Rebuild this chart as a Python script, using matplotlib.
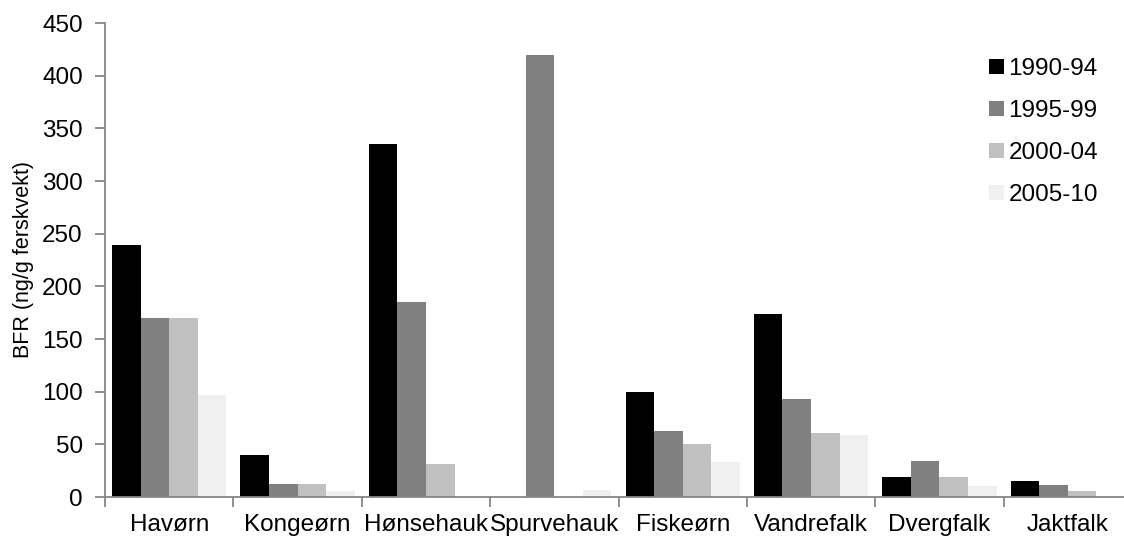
import matplotlib
matplotlib.use("Agg")
import matplotlib.pyplot as plt
import numpy as np

plt.rcParams['font.family'] = ['Liberation Sans', 'DejaVu Sans']

categories = ["Havørn", "Kongeørn", "Hønsehauk", "Spurvehauk", "Fiskeørn",
              "Vandrefalk", "Dvergfalk", "Jaktfalk"]
series_names = ["1990-94", "1995-99", "2000-04", "2005-10"]
v_1990_94 = [239, 40, 335, 0, 100, 174, 19, 15]
v_1995_99 = [170, 12, 185, 420, 63, 93, 34, 11]
v_2000_04 = [170, 12, 31, 0, 50, 61, 19, 6]
v_2005_10 = [97, 6, 0, 7, 33, 59, 10, 1]
colors = ["#000000", "#808080", "#c0c0c0", "#f0f0f0"]

W, H = 1124, 538
fig = plt.figure(figsize=(W/100, H/100), dpi=100)
ax = fig.add_axes([105/W, 1-497/H, 1027/W, (497-23)/H])

x = np.arange(len(categories))
group = 0.89
w = group / 4
for i, (vals, c, n) in enumerate(zip([v_1990_94, v_1995_99, v_2000_04, v_2005_10], colors, series_names)):
    ax.bar(x - group/2 + w*(i+0.5), vals, width=w, color=c, label=n, linewidth=0)

fs = 17.5
ax.set_xlim(-0.5, len(categories)-0.5)
ax.set_ylim(0, 450)
ax.set_yticks(np.arange(0, 451, 50))
ax.set_xticks(np.arange(-0.5, len(categories), 1.0))
ax.set_xticklabels([])
ax.set_xticks(x, minor=True)
ax.set_xticklabels(categories, minor=True, fontsize=fs)
ax.tick_params(axis='x', which='minor', length=0, pad=12)
ax.tick_params(axis='x', which='major', length=7, width=1.3, color='#868686', direction='out')
ax.tick_params(axis='y', length=7, width=1.3, color='#868686', direction='out', labelsize=fs, pad=9)

for s in ['top', 'right']:
    ax.spines[s].set_visible(False)
for s in ['left', 'bottom']:
    ax.spines[s].set_color('#868686')
    ax.spines[s].set_linewidth(1.3)

ax.set_ylabel("BFR (ng/g ferskvekt)", fontsize=15.5, labelpad=6)

leg = ax.legend(loc='upper left', frameon=False, fontsize=fs, handlelength=0.6, handleheight=0.6,
                labelspacing=0.82, handletextpad=0.2, borderaxespad=0, borderpad=0)
leg.set_bbox_to_anchor((989/W, 1-58/H), transform=fig.transFigure)

fig.savefig("out.png", dpi=100)
